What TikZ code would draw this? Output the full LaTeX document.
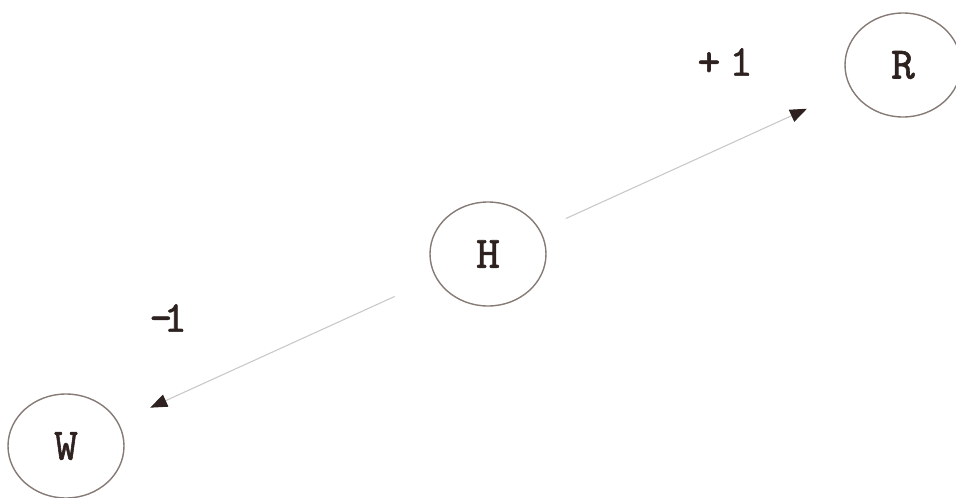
\documentclass[tikz,border=0pt]{standalone}
\usepackage{fontspec}
\newfontfamily\glyphfont{lmmono10-regular.otf}[FakeBold=1.3]
\usetikzlibrary{shapes.geometric,arrows.meta}
\definecolor{ring}{HTML}{857A75}
\definecolor{ink}{HTML}{2E2220}
\definecolor{wire}{HTML}{C9C9C9}
\tikzset{
  state/.style={ellipse, draw=ring, line width=1.4pt, minimum width=116pt, minimum height=104pt, inner sep=0pt,
    font=\glyphfont\fontsize{45}{45}\selectfont, text=ink},
  lbl/.style={font=\glyphfont\fontsize{44}{44}\selectfont, text=ink, inner sep=0pt},
  move/.style={draw=wire, line width=1.1pt, -{Triangle[length=17pt,width=13pt,color=ink]}}
}
\begin{document}
\begin{tikzpicture}[x=1pt,y=-1pt]
\useasboundingbox (0,0) rectangle (956,498);
\node[state] (R) at (903,65) {R};
\node[state] (H) at (488,254) {H};
\node[state] (W) at (66,446) {W};
\node[lbl] (plus) at (725,62) {+\kern 9pt 1};
\node[lbl] (minus) at (168,318) {-\kern-0.2em1};
\draw[move, shorten <=28pt, shorten >=48pt] (H) -- (R);
\draw[move, shorten <=45pt, shorten >=35pt] (H) -- (W);
\end{tikzpicture}
\end{document}
